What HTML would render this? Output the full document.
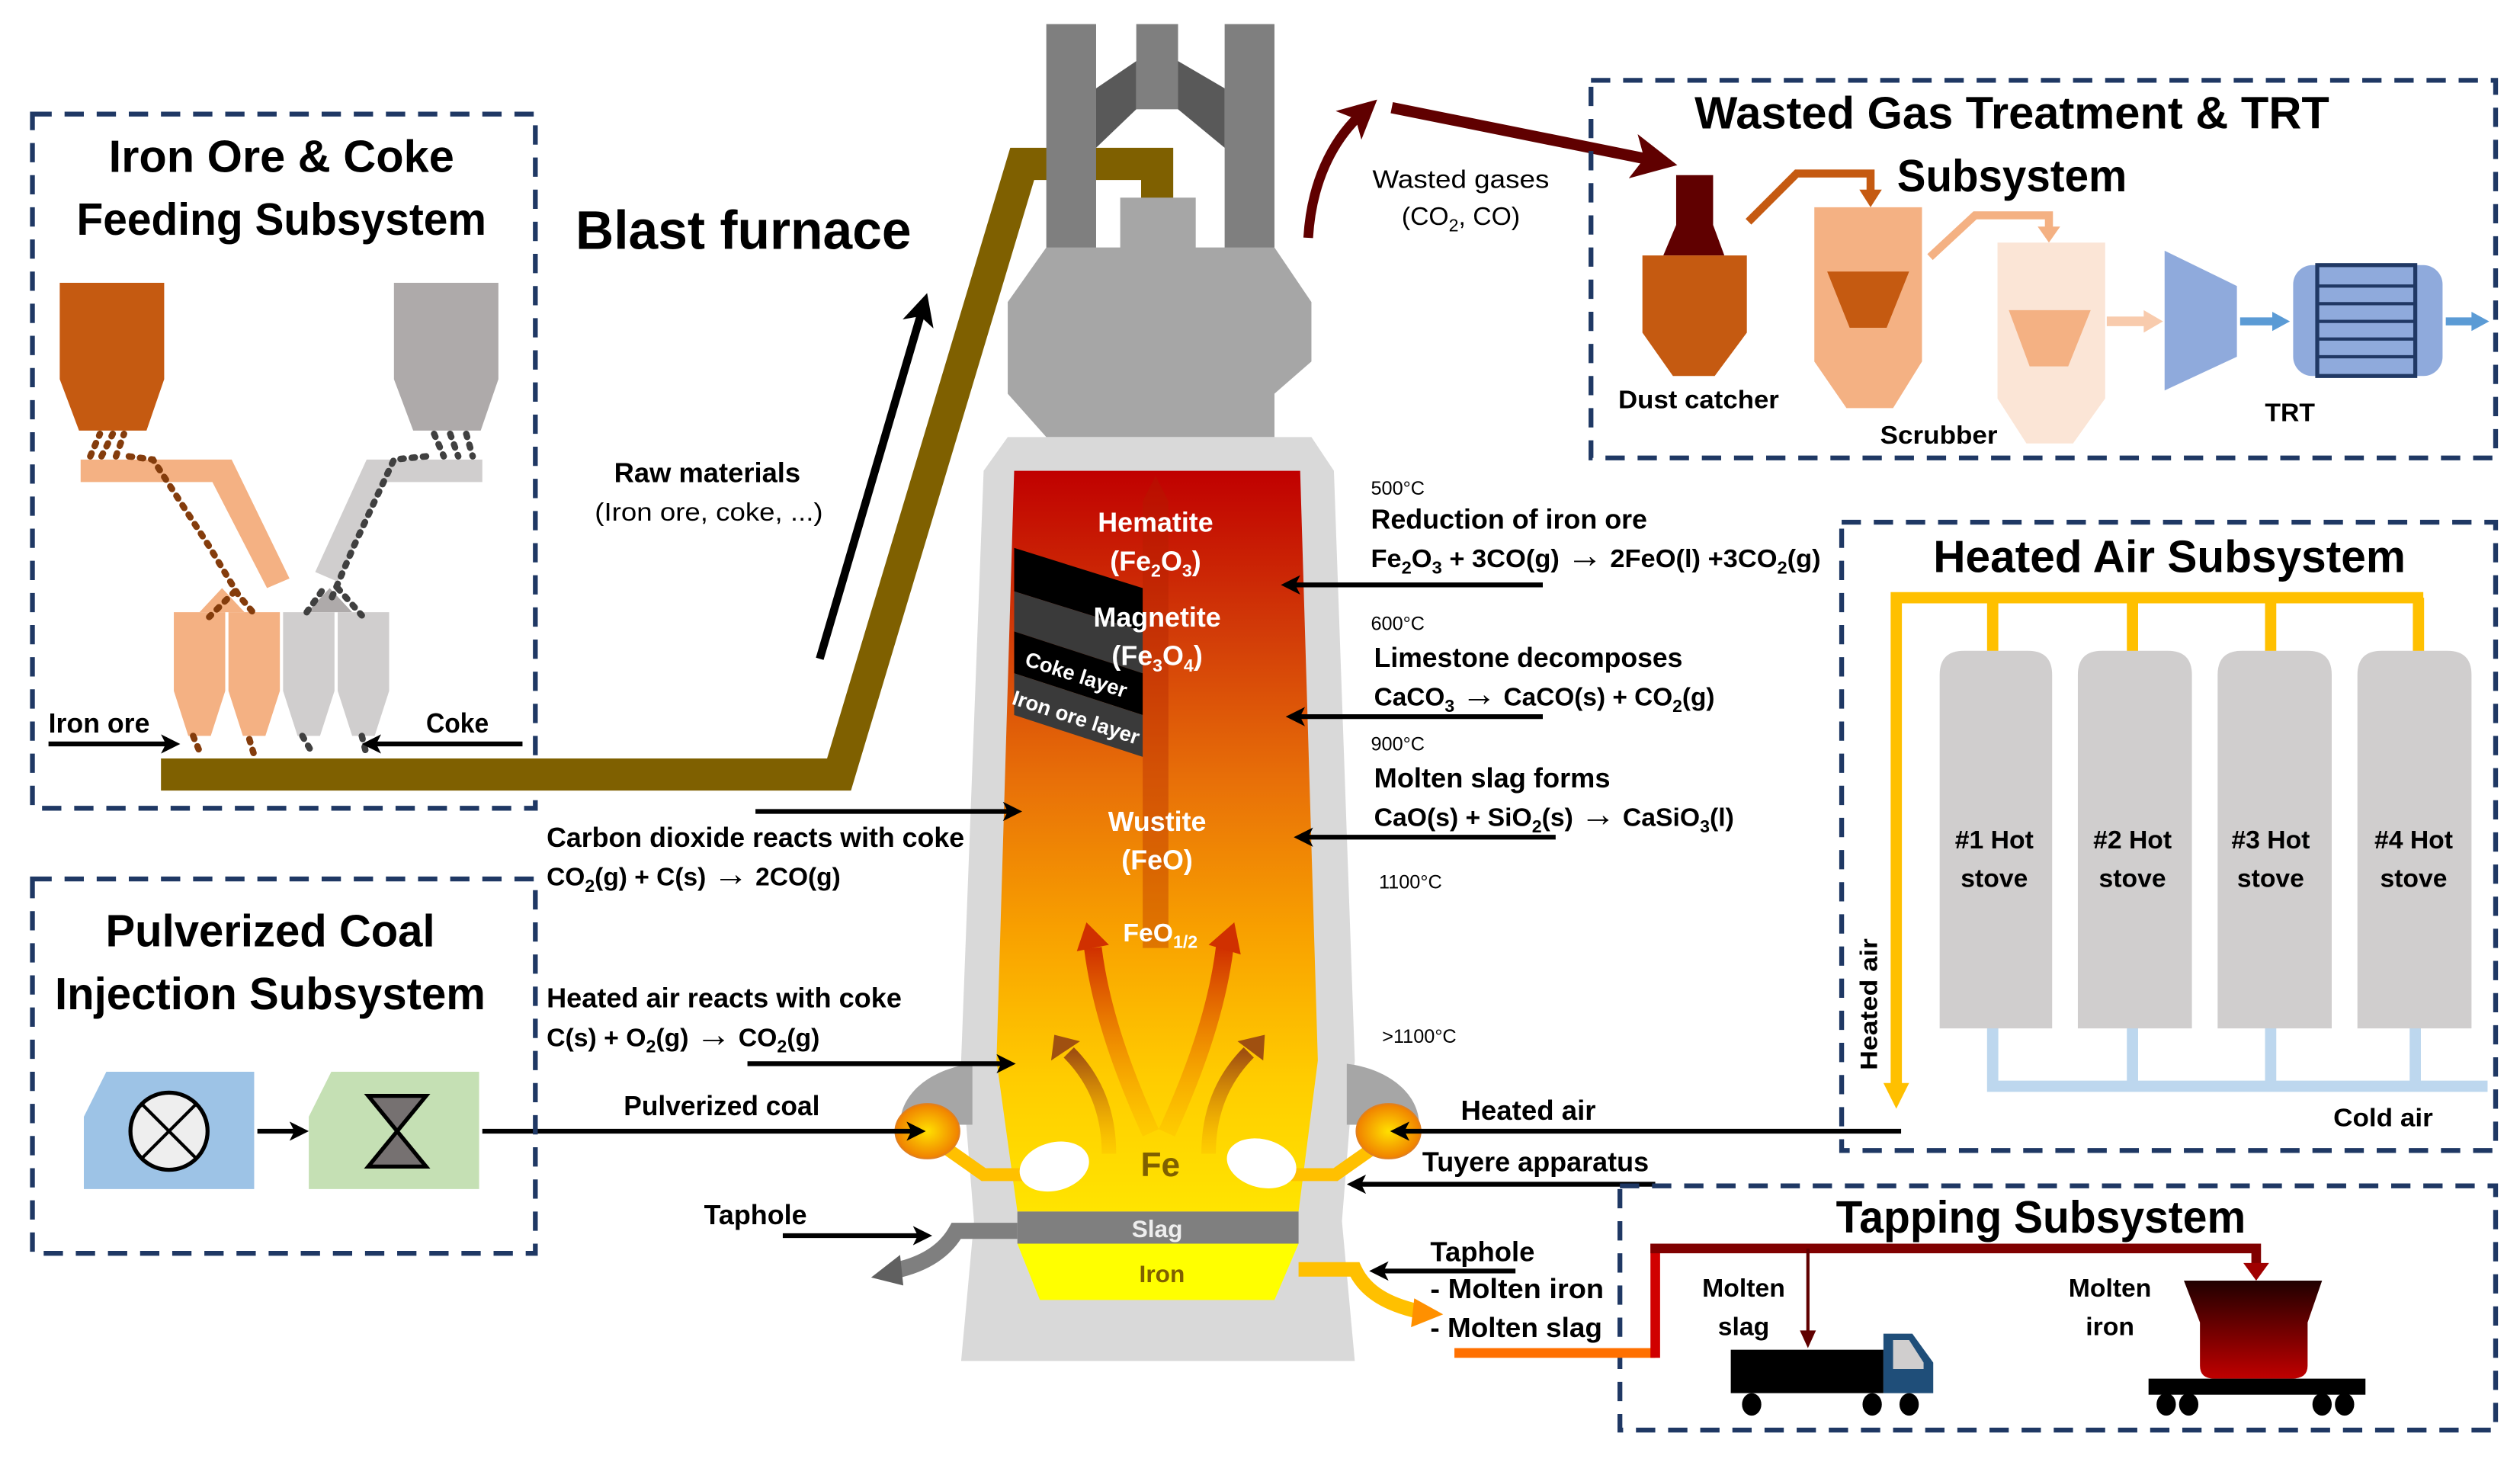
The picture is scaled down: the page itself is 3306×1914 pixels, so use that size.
<!DOCTYPE html>
<html><head><meta charset="utf-8"><style>
html,body{margin:0;padding:0;background:#fff;}
svg{display:block;}
text{font-family:"Liberation Sans",sans-serif;font-weight:bold;fill:#000;}
</style></head><body>
<svg width="3306" height="1914" viewBox="0 0 1568 908" xmlns="http://www.w3.org/2000/svg">
<defs>
<linearGradient id="interior" x1="0" y1="293" x2="0" y2="754" gradientUnits="userSpaceOnUse">
<stop offset="0" stop-color="#c00000"/><stop offset="0.22" stop-color="#d23c08"/><stop offset="0.42" stop-color="#e87008"/><stop offset="0.62" stop-color="#f8a000"/><stop offset="0.82" stop-color="#ffcc00"/><stop offset="1" stop-color="#ffe400"/>
</linearGradient>
<linearGradient id="flame" x1="0" y1="1" x2="0" y2="0"><stop offset="0" stop-color="#f8a000" stop-opacity="0.2"/><stop offset="1" stop-color="#d03000"/></linearGradient>
<linearGradient id="flame2" x1="0" y1="1" x2="0" y2="0"><stop offset="0" stop-color="#f8a000" stop-opacity="0.2"/><stop offset="1" stop-color="#a05010"/></linearGradient>
<radialGradient id="ball"><stop offset="0" stop-color="#ffe000"/><stop offset="1" stop-color="#f08000"/></radialGradient>
<linearGradient id="ladle" x1="0" y1="0" x2="0" y2="1"><stop offset="0" stop-color="#200000"/><stop offset="1" stop-color="#c00000"/></linearGradient>
<marker id="ah" markerWidth="4" markerHeight="4" refX="2" refY="2" orient="auto" markerUnits="strokeWidth"><path d="M0,0 L4,2 L0,4 L1,2 z" fill="#000"/></marker>
<marker id="ahr" markerWidth="4" markerHeight="4" refX="2" refY="2" orient="auto" markerUnits="strokeWidth"><path d="M0,0 L4,2 L0,4 L1,2 z" fill="#600000"/></marker>
</defs>

<!-- ===== Feeding subsystem ===== -->
<rect x="20" y="71" width="313" height="432" fill="none" stroke="#1f3864" stroke-width="3" stroke-dasharray="12 8"/>
<text x="175" y="107" font-size="28" text-anchor="middle" textLength="215" lengthAdjust="spacingAndGlyphs">Iron Ore &amp; Coke</text>
<text x="175" y="146" font-size="28" text-anchor="middle" textLength="255" lengthAdjust="spacingAndGlyphs">Feeding Subsystem</text>
<polygon points="37,176 102,176 102,236 91,268 49,268 37,236" fill="#c55a11"/>
<polygon points="245,176 310,176 310,236 299,268 257,268 245,236" fill="#aeaaaa"/>
<polygon points="50,286 144,286 180,360 166,366 132,300 50,300" fill="#f4b183"/>
<polygon points="300,286 300,300 238,300 210,362 196,356 228,286" fill="#d0cece"/>
<polygon points="124,381 138,366 152,381" fill="#f4b183"/>
<polygon points="191,381 205,366 219,381" fill="#aeaaaa"/>
<g fill="#d0cece"><polygon points="176,381 208,381 208,430 199,458 185,458 176,430"/><polygon points="210,381 242,381 242,430 233,458 219,458 210,430"/></g>
<g fill="#f4b183"><polygon points="108,381 140,381 140,430 131,458 117,458 108,430"/><polygon points="142,381 174,381 174,430 165,458 151,458 142,430"/></g>
<g stroke="#843c0c" stroke-width="4" stroke-linecap="round" stroke-dasharray="2 5" fill="none">
<path d="M56,284 L62,270 M63,284 L70,270 M72,284 L77,270 M80,284 L95,286 L130,340 L148,370 L158,382"/>
<path d="M146,368 L130,384"/><path d="M120,458 L125,470 M155,460 L158,470"/>
</g>
<g stroke="#404040" stroke-width="4" stroke-linecap="round" stroke-dasharray="2 5" fill="none">
<path d="M270,270 L276,284 M280,270 L285,284 M290,270 L294,284 M265,284 L245,286 L220,340 L205,375"/>
<path d="M210,366 L225,383 M200,368 L190,382"/><path d="M188,458 L195,470 M225,458 L228,470"/>
</g>
<text x="30" y="456" font-size="17" textLength="63" lengthAdjust="spacingAndGlyphs">Iron ore</text>
<line x1="30" y1="463" x2="106" y2="463" stroke="#000" stroke-width="3" marker-end="url(#ah)"/>
<text x="265" y="456" font-size="17" textLength="39" lengthAdjust="spacingAndGlyphs">Coke</text>
<line x1="325" y1="463" x2="231" y2="463" stroke="#000" stroke-width="3" marker-end="url(#ah)"/>

<polyline points="100,482 522,482 636,102 720,102 720,126" fill="none" stroke="#7f6000" stroke-width="20" stroke-linejoin="miter"/>

<text x="358" y="155" font-size="34" textLength="209" lengthAdjust="spacingAndGlyphs">Blast furnace</text>
<line x1="510" y1="410" x2="574" y2="192" stroke="#000" stroke-width="5" marker-end="url(#ah)"/>
<text x="440" y="300" font-size="17" text-anchor="middle" textLength="116" lengthAdjust="spacingAndGlyphs">Raw materials</text>
<text x="441" y="324" font-size="16" text-anchor="middle" textLength="142" lengthAdjust="spacingAndGlyphs" style="font-weight:normal">(Iron ore, coke, ...)</text>

<!-- ===== Furnace ===== -->
<rect x="651" y="15" width="31" height="142" fill="#7f7f7f"/>
<rect x="762" y="15" width="31" height="142" fill="#7f7f7f"/>
<rect x="707" y="15" width="26" height="53" fill="#7f7f7f"/>
<polygon points="682,55 707,38 707,68 682,92" fill="#595959"/>
<polygon points="733,38 762,55 762,92 733,68" fill="#595959"/>
<rect x="697" y="123" width="47" height="32" fill="#a6a6a6"/>
<polygon points="651,154 793,154 816,188 816,225 793,245 793,272 651,272 627,245 627,188 651,154" fill="#a6a6a6"/>
<polygon points="627,272 816,272 830,293 843,660 835,760 843,847 598,847 606,760 598,660 612,293" fill="#d9d9d9"/>
<polygon points="631,293 809,293 820,660 808,754 633,754 620,660" fill="url(#interior)"/>
<polygon points="631,341 711,366 711,393 631,368" fill="#000"/>
<polygon points="631,368 711,393 711,419 631,393" fill="#3a3a3a"/>
<polygon points="631,393 711,419 711,445 631,419" fill="#000"/>
<polygon points="631,419 711,445 711,471 631,445" fill="#3a3a3a"/>
<polygon points="711,590 711,312 719,296 727,312 727,590" fill="#b02000" opacity="0.35"/>
<text x="719" y="331" font-size="17" style="fill:#fff" text-anchor="middle">Hematite</text>
<text x="719" y="355" font-size="17" style="fill:#fff" text-anchor="middle">(Fe<tspan font-size="11" dy="4">2</tspan><tspan dy="-4">O</tspan><tspan font-size="11" dy="4">3</tspan><tspan dy="-4">)</tspan></text>
<text x="720" y="390" font-size="17" style="fill:#fff" text-anchor="middle">Magnetite</text>
<text x="720" y="414" font-size="17" style="fill:#fff" text-anchor="middle">(Fe<tspan font-size="11" dy="4">3</tspan><tspan dy="-4">O</tspan><tspan font-size="11" dy="4">4</tspan><tspan dy="-4">)</tspan></text>
<text x="637" y="414" font-size="13" style="fill:#fff" transform="rotate(18 637 414)">Coke layer</text>
<text x="629" y="438" font-size="13" style="fill:#fff" transform="rotate(18 629 438)">Iron ore layer</text>
<text x="720" y="517" font-size="17" style="fill:#fff" text-anchor="middle">Wustite</text>
<text x="720" y="541" font-size="17" style="fill:#fff" text-anchor="middle">(FeO)</text>
<text x="722" y="586" font-size="16" style="fill:#fff" text-anchor="middle">FeO<tspan font-size="11" dy="4">1/2</tspan></text>
<path d="M716,705 C700,670 685,630 680,590" fill="none" stroke="url(#flame)" stroke-width="11"/>
<polygon points="670,592 676,574 690,588" fill="#d03000"/>
<path d="M726,705 C742,670 757,630 762,590" fill="none" stroke="url(#flame)" stroke-width="11"/>
<polygon points="752,588 768,574 772,594" fill="#d03000"/>
<path d="M690,718 C690,690 680,670 665,655" fill="none" stroke="url(#flame2)" stroke-width="9"/>
<polygon points="654,660 656,644 672,648" fill="#a05010"/>
<path d="M752,718 C752,690 762,670 777,655" fill="none" stroke="url(#flame2)" stroke-width="9"/>
<polygon points="770,648 787,644 786,660" fill="#a05010"/>
<path d="M560,700 C560,680 580,665 605,662 L605,700 z" fill="#a6a6a6"/>
<path d="M883,700 C883,680 863,665 838,662 L838,700 z" fill="#a6a6a6"/>
<polyline points="585,712 612,731 640,731" fill="none" stroke="#ffc000" stroke-width="8"/>
<polyline points="858,712 831,731 803,731" fill="none" stroke="#ffc000" stroke-width="8"/>
<ellipse cx="577" cy="704" rx="20" ry="17" fill="url(#ball)" stroke="#e08020" stroke-width="1"/>
<ellipse cx="864" cy="704" rx="20" ry="17" fill="url(#ball)" stroke="#e08020" stroke-width="1"/>
<ellipse cx="656" cy="726" rx="22" ry="15" fill="#fff" transform="rotate(-15 656 726)"/>
<ellipse cx="785" cy="724" rx="22" ry="15" fill="#fff" transform="rotate(15 785 724)"/>
<text x="722" y="732" font-size="21" style="fill:#7f6000" text-anchor="middle">Fe</text>
<rect x="633" y="754" width="175" height="20" fill="#7f7f7f"/>
<text x="720" y="770" font-size="15" style="fill:#eee" text-anchor="middle">Slag</text>
<polygon points="633,774 808,774 793,809 647,809" fill="#ffff00"/>
<text x="723" y="798" font-size="15" style="fill:#7f6000" text-anchor="middle">Iron</text>
<path d="M633,766 L595,766 C590,775 580,785 560,790" fill="none" stroke="#7f7f7f" stroke-width="10"/>
<polygon points="560,781 542,795 562,800" fill="#606060"/>
<path d="M808,790 L843,790 C850,805 865,812 882,816" fill="none" stroke="#ffc000" stroke-width="9"/>
<polygon points="880,808 898,818 878,826" fill="#ff9000"/>

<!-- ===== labels right of furnace ===== -->
<path d="M814,148 C816,115 828,88 848,70" fill="none" stroke="#600000" stroke-width="6" marker-end="url(#ahr)"/>
<line x1="866" y1="67" x2="1030" y2="100" stroke="#600000" stroke-width="7" marker-end="url(#ahr)"/>
<text x="909" y="117" font-size="16" text-anchor="middle" style="font-weight:normal" textLength="110" lengthAdjust="spacingAndGlyphs">Wasted gases</text>
<text x="909" y="140" font-size="16" text-anchor="middle" style="font-weight:normal">(CO<tspan font-size="11" dy="4">2</tspan><tspan dy="-4">, CO)</tspan></text>

<text x="853" y="308" font-size="12" style="font-weight:normal">500°C</text>
<text x="853" y="329" font-size="17" textLength="172" lengthAdjust="spacingAndGlyphs">Reduction of iron ore</text>
<text x="853" y="353" font-size="16" textLength="280" lengthAdjust="spacingAndGlyphs">Fe<tspan font-size="11" dy="4">2</tspan><tspan dy="-4">O</tspan><tspan font-size="11" dy="4">3</tspan><tspan dy="-4"> + 3CO(g) </tspan><tspan font-size="22">→</tspan><tspan> 2FeO(l) +3CO</tspan><tspan font-size="11" dy="4">2</tspan><tspan dy="-4">(g)</tspan></text>
<line x1="960" y1="364" x2="803" y2="364" stroke="#000" stroke-width="3" marker-end="url(#ah)"/>
<text x="853" y="392" font-size="12" style="font-weight:normal">600°C</text>
<text x="855" y="415" font-size="17" textLength="192" lengthAdjust="spacingAndGlyphs">Limestone decomposes</text>
<text x="855" y="439" font-size="16" textLength="212" lengthAdjust="spacingAndGlyphs">CaCO<tspan font-size="11" dy="4">3</tspan><tspan dy="-4"> </tspan><tspan font-size="22">→</tspan><tspan> CaCO(s) + CO</tspan><tspan font-size="11" dy="4">2</tspan><tspan dy="-4">(g)</tspan></text>
<line x1="960" y1="446" x2="806" y2="446" stroke="#000" stroke-width="3" marker-end="url(#ah)"/>
<text x="853" y="467" font-size="12" style="font-weight:normal">900°C</text>
<text x="855" y="490" font-size="17" textLength="147" lengthAdjust="spacingAndGlyphs">Molten slag forms</text>
<text x="855" y="514" font-size="16" textLength="224" lengthAdjust="spacingAndGlyphs">CaO(s) + SiO<tspan font-size="11" dy="4">2</tspan><tspan dy="-4">(s) </tspan><tspan font-size="22">→</tspan><tspan> CaSiO</tspan><tspan font-size="11" dy="4">3</tspan><tspan dy="-4">(l)</tspan></text>
<line x1="968" y1="521" x2="811" y2="521" stroke="#000" stroke-width="3" marker-end="url(#ah)"/>
<text x="858" y="553" font-size="12" style="font-weight:normal">1100°C</text>
<text x="860" y="649" font-size="12" style="font-weight:normal">&gt;1100°C</text>
<text x="909" y="697" font-size="17" textLength="84" lengthAdjust="spacingAndGlyphs">Heated air</text>
<line x1="1183" y1="704" x2="871" y2="704" stroke="#000" stroke-width="3" marker-end="url(#ah)"/>
<text x="885" y="729" font-size="17" textLength="141" lengthAdjust="spacingAndGlyphs">Tuyere apparatus</text>
<line x1="1030" y1="737" x2="844" y2="737" stroke="#000" stroke-width="3" marker-end="url(#ah)"/>
<text x="890" y="785" font-size="17" textLength="65" lengthAdjust="spacingAndGlyphs">Taphole</text>
<line x1="943" y1="791" x2="858" y2="791" stroke="#000" stroke-width="3" marker-end="url(#ah)"/>
<text x="890" y="808" font-size="17" textLength="108" lengthAdjust="spacingAndGlyphs">- Molten iron</text>
<text x="890" y="832" font-size="17" textLength="107" lengthAdjust="spacingAndGlyphs">- Molten slag</text>

<text x="340" y="527" font-size="17" textLength="260" lengthAdjust="spacingAndGlyphs">Carbon dioxide reacts with coke</text>
<text x="340" y="551" font-size="16" textLength="183" lengthAdjust="spacingAndGlyphs">CO<tspan font-size="11" dy="4">2</tspan><tspan dy="-4">(g) + C(s) </tspan><tspan font-size="22">→</tspan><tspan> 2CO(g)</tspan></text>
<line x1="470" y1="505" x2="630" y2="505" stroke="#000" stroke-width="3" marker-end="url(#ah)"/>
<text x="340" y="627" font-size="17" textLength="221" lengthAdjust="spacingAndGlyphs">Heated air reacts with coke</text>
<text x="340" y="651" font-size="16" textLength="170" lengthAdjust="spacingAndGlyphs">C(s) + O<tspan font-size="11" dy="4">2</tspan><tspan dy="-4">(g) </tspan><tspan font-size="22">→</tspan><tspan> CO</tspan><tspan font-size="11" dy="4">2</tspan><tspan dy="-4">(g)</tspan></text>
<line x1="465" y1="662" x2="626" y2="662" stroke="#000" stroke-width="3" marker-end="url(#ah)"/>
<text x="449" y="694" font-size="17" text-anchor="middle" textLength="122" lengthAdjust="spacingAndGlyphs">Pulverized coal</text>
<line x1="300" y1="704" x2="570" y2="704" stroke="#000" stroke-width="3" marker-end="url(#ah)"/>
<text x="470" y="762" font-size="17" text-anchor="middle" textLength="64" lengthAdjust="spacingAndGlyphs">Taphole</text>
<line x1="487" y1="769" x2="574" y2="769" stroke="#000" stroke-width="3" marker-end="url(#ah)"/>

<!-- ===== Pulverized coal box ===== -->
<rect x="20" y="547" width="313" height="233" fill="none" stroke="#1f3864" stroke-width="3" stroke-dasharray="12 8"/>
<text x="168" y="589" font-size="28" text-anchor="middle" textLength="205" lengthAdjust="spacingAndGlyphs">Pulverized Coal</text>
<text x="168" y="628" font-size="28" text-anchor="middle" textLength="268" lengthAdjust="spacingAndGlyphs">Injection Subsystem</text>
<polygon points="66,667 158,667 158,740 52,740 52,695" fill="#9dc3e6"/>
<ellipse cx="105" cy="704" rx="24" ry="24" fill="#eee" stroke="#000" stroke-width="2.5"/>
<line x1="88" y1="687" x2="122" y2="721" stroke="#000" stroke-width="2"/><line x1="122" y1="687" x2="88" y2="721" stroke="#000" stroke-width="2"/>
<line x1="160" y1="704" x2="186" y2="704" stroke="#000" stroke-width="3" marker-end="url(#ah)"/>
<polygon points="206,667 298,667 298,740 192,740 192,695" fill="#c5e0b4"/>
<polygon points="229,682 265,682 247,704 265,726 229,726 247,704" fill="#767171" stroke="#000" stroke-width="2.5"/>

<!-- ===== Wasted gas box ===== -->
<rect x="990" y="50" width="563" height="235" fill="none" stroke="#1f3864" stroke-width="3" stroke-dasharray="12 8"/>
<text x="1252" y="80" font-size="28" text-anchor="middle" textLength="395" lengthAdjust="spacingAndGlyphs">Wasted Gas Treatment &amp; TRT</text>
<text x="1252" y="119" font-size="28" text-anchor="middle" textLength="143" lengthAdjust="spacingAndGlyphs">Subsystem</text>
<polygon points="1043,109 1066,109 1066,140 1073,159 1035,159 1043,140" fill="#600000"/>
<polygon points="1022,159 1087,159 1087,207 1067,234 1041,234 1022,207" fill="#c55a11"/>
<text x="1007" y="254" font-size="16" textLength="100" lengthAdjust="spacingAndGlyphs">Dust catcher</text>
<polyline points="1088,138 1118,108 1164,108 1164,120" fill="none" stroke="#c55a11" stroke-width="5"/>
<polygon points="1157,118 1171,118 1164,129" fill="#c55a11"/>
<polygon points="1129,129 1196,129 1196,225 1178,254 1149,254 1129,225" fill="#f4b183"/>
<polygon points="1137,169 1188,169 1174,204 1151,204" fill="#c55a11"/>
<polygon points="1243,151 1310,151 1310,248 1290,276 1261,276 1243,248" fill="#fbe5d6"/>
<polygon points="1250,193 1301,193 1287,228 1263,228" fill="#f4b183"/>
<polyline points="1201,160 1229,134 1275,134 1275,142" fill="none" stroke="#f4b183" stroke-width="5"/>
<polygon points="1268,141 1282,141 1275,151" fill="#f4b183"/>
<text x="1170" y="276" font-size="16" textLength="73" lengthAdjust="spacingAndGlyphs">Scrubber</text>
<line x1="1311" y1="200" x2="1336" y2="200" stroke="#f8cbad" stroke-width="6"/>
<polygon points="1334,193 1346,200 1334,207" fill="#f8cbad"/>
<polygon points="1347,156 1392,178 1392,222 1347,243" fill="#8faadc"/>
<line x1="1394" y1="200" x2="1416" y2="200" stroke="#5b9bd5" stroke-width="5"/>
<polygon points="1414,194 1425,200 1414,206" fill="#5b9bd5"/>
<rect x="1427" y="165" width="93" height="69" rx="12" fill="#8faadc"/>
<rect x="1442" y="165" width="61" height="69" fill="none" stroke="#203864" stroke-width="2.5"/>
<g stroke="#203864" stroke-width="2"><line x1="1442" y1="178" x2="1503" y2="178"/><line x1="1442" y1="189" x2="1503" y2="189"/><line x1="1442" y1="200" x2="1503" y2="200"/><line x1="1442" y1="211" x2="1503" y2="211"/><line x1="1442" y1="222" x2="1503" y2="222"/></g>
<line x1="1522" y1="200" x2="1540" y2="200" stroke="#5b9bd5" stroke-width="5"/>
<polygon points="1538,194 1549,200 1538,206" fill="#5b9bd5"/>
<text x="1425" y="262" font-size="16" text-anchor="middle">TRT</text>

<!-- ===== Heated air box ===== -->
<rect x="1146" y="325" width="407" height="391" fill="none" stroke="#1f3864" stroke-width="3" stroke-dasharray="12 8"/>
<text x="1350" y="356" font-size="28" text-anchor="middle" textLength="294" lengthAdjust="spacingAndGlyphs">Heated Air Subsystem</text>
<polyline points="1180,676 1180,372 1508,372" fill="none" stroke="#ffc000" stroke-width="7"/>
<polygon points="1172,674 1188,674 1180,690" fill="#ffc000"/>
<g stroke="#ffc000" stroke-width="7"><line x1="1240" y1="372" x2="1240" y2="408"/><line x1="1327" y1="372" x2="1327" y2="408"/><line x1="1413" y1="372" x2="1413" y2="408"/><line x1="1505" y1="372" x2="1505" y2="408"/></g>
<g stroke="#bdd7ee" stroke-width="7" fill="none"><polyline points="1240,636 1240,676 1548,676"/><line x1="1327" y1="636" x2="1327" y2="676"/><line x1="1413" y1="636" x2="1413" y2="676"/><line x1="1503" y1="636" x2="1503" y2="676"/></g>
<g fill="#d0cece">
<path d="M1207,640 L1207,420 Q1207,405 1222,405 L1262,405 Q1277,405 1277,420 L1277,640 z"/>
<path d="M1293,640 L1293,420 Q1293,405 1308,405 L1349,405 Q1364,405 1364,420 L1364,640 z"/>
<path d="M1380,640 L1380,420 Q1380,405 1395,405 L1436,405 Q1451,405 1451,420 L1451,640 z"/>
<path d="M1467,640 L1467,420 Q1467,405 1482,405 L1523,405 Q1538,405 1538,420 L1538,640 z"/>
</g>
<g font-size="16" text-anchor="middle">
<text x="1241" y="528">#1 Hot</text><text x="1241" y="552">stove</text>
<text x="1327" y="528">#2 Hot</text><text x="1327" y="552">stove</text>
<text x="1413" y="528">#3 Hot</text><text x="1413" y="552">stove</text>
<text x="1502" y="528">#4 Hot</text><text x="1502" y="552">stove</text>
</g>
<text x="1452" y="701" font-size="16" textLength="62" lengthAdjust="spacingAndGlyphs">Cold air</text>
<text x="1168" y="625" font-size="15" text-anchor="middle" transform="rotate(-90 1168 625)" textLength="82" lengthAdjust="spacingAndGlyphs">Heated air</text>

<!-- ===== Tapping box ===== -->
<rect x="1008" y="738" width="545" height="152" fill="none" stroke="#1f3864" stroke-width="3" stroke-dasharray="12 8"/>
<text x="1270" y="767" font-size="28" text-anchor="middle" textLength="255" lengthAdjust="spacingAndGlyphs">Tapping Subsystem</text>
<line x1="905" y1="842" x2="1030" y2="842" stroke="#ff7000" stroke-width="6"/>
<line x1="1030" y1="845" x2="1030" y2="774" stroke="#d00000" stroke-width="6"/>
<line x1="1027" y1="777" x2="1404" y2="777" stroke="#800000" stroke-width="6"/>
<line x1="1404" y1="774" x2="1404" y2="788" stroke="#800000" stroke-width="6"/>
<polygon points="1396,786 1412,786 1404,797" fill="#a00000"/>
<line x1="1125" y1="777" x2="1125" y2="830" stroke="#600000" stroke-width="2"/>
<polygon points="1120,828 1130,828 1125,839" fill="#600000"/>
<text x="1085" y="807" font-size="16" text-anchor="middle">Molten</text>
<text x="1085" y="831" font-size="16" text-anchor="middle">slag</text>
<text x="1313" y="807" font-size="16" text-anchor="middle">Molten</text>
<text x="1313" y="831" font-size="16" text-anchor="middle">iron</text>
<rect x="1077" y="840" width="95" height="27" fill="#000"/>
<polygon points="1172,830 1190,830 1203,848 1203,867 1172,867" fill="#1f4e79"/>
<polygon points="1178,834 1188,834 1197,848 1197,852 1178,852" fill="#d0cece"/>
<ellipse cx="1090" cy="874" rx="6" ry="7" fill="#000"/><ellipse cx="1165" cy="874" rx="6" ry="7" fill="#000"/><ellipse cx="1188" cy="874" rx="6" ry="7" fill="#000"/>
<path d="M1359,797 L1445,797 L1436,823 L1436,850 Q1436,858 1426,858 L1378,858 Q1369,858 1369,850 L1369,823 z" fill="url(#ladle)"/>
<rect x="1337" y="858" width="135" height="10" fill="#000"/>
<ellipse cx="1348" cy="874" rx="6" ry="7" fill="#000"/><ellipse cx="1362" cy="874" rx="6" ry="7" fill="#000"/><ellipse cx="1445" cy="874" rx="6" ry="7" fill="#000"/><ellipse cx="1459" cy="874" rx="6" ry="7" fill="#000"/>
</svg>
</body></html>
